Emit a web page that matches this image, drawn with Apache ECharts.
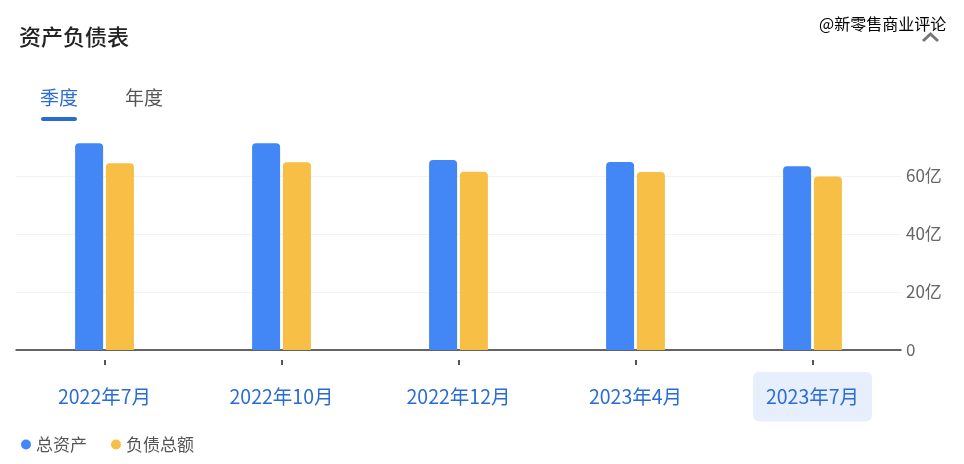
<!DOCTYPE html>
<html><head><meta charset="utf-8">
<script src="https://cdn.jsdelivr.net/npm/echarts@6/dist/echarts.min.js"></script>
<style>html,body{margin:0;padding:0;background:#fff}#c{width:964px;height:464px}</style>
</head><body><div id="c"></div>
<script>
const categories = ['2022年7月','2022年10月','2022年12月','2023年4月','2023年7月'];
const totalAssets = [71.3, 71.3, 65.5, 64.8, 63.4];
const totalLiabilities = [64.4, 64.7, 61.5, 61.4, 59.8];
const seriesNames = ['总资产','负债总额'];
const yTicks = [0, 20, 40, 60];

const FONT = '"Noto Sans CJK SC","Noto Sans",sans-serif';
const chart = echarts.init(document.getElementById('c'), null, {renderer:'canvas'});
chart.setOption({
  animation:false,
  textStyle:{fontFamily:FONT},
  title:{text:'资产负债表', left:14, top:21, textStyle:{fontSize:22, fontWeight:500, color:'#222', fontFamily:FONT}},
  graphic:[
    {type:'text', left:40, top:88, style:{text:'季度', fontSize:19, fill:'#2a6cd6', fontFamily:FONT}},
    {type:'text', left:125, top:88, style:{text:'年度', fontSize:19, fill:'#555', fontFamily:FONT}},
    {type:'rect', shape:{x:41, y:117, width:36, height:4, r:2}, style:{fill:'#2a6cd6'}},
    {type:'text', left:819, top:16, style:{text:'@新零售商业评论', fontSize:16, fill:'#000', fontFamily:FONT}},
    {type:'polyline', shape:{points:[[923,41],[930.5,34],[938,41]]}, style:{stroke:'#777', lineWidth:3, fill:null}}
  ],
  legend:{
    data:seriesNames, left:16, top:431, icon:'circle', itemWidth:10, itemHeight:10, itemGap:24,
    textStyle:{fontSize:17, color:'#555', fontFamily:FONT}
  },
  grid:{left:16, right:63, top:118, bottom:114},
  xAxis:[
    {type:'category', data:categories, axisLine:{show:true, lineStyle:{color:'#333', width:1.5}},
     axisTick:{show:false}, axisLabel:{show:false}},
    {type:'category', data:categories, position:'bottom', offset:10,
     axisLine:{show:false}, axisTick:{show:true, alignWithLabel:true, length:5, lineStyle:{color:'#555', width:2}},
     axisLabel:{margin:12, formatter:(v,i)=> i===categories.length-1 ? '{hl|'+v+'}' : '{n|'+v+'}',
       rich:{
         n:{fontSize:19.5, color:'#2a6cd6', padding:[15,13], fontFamily:FONT},
         hl:{fontSize:19.5, color:'#2a6cd6', padding:[15,13], backgroundColor:'#e7effc', borderRadius:6, fontFamily:FONT}
       }}}
  ],
  yAxis:{type:'value', position:'right', min:0, max:80, interval:20,
    axisLine:{show:false}, axisTick:{show:false},
    splitLine:{lineStyle:{color:['#f3f3f3','#f3f3f3','#f3f3f3','#f3f3f3','rgba(0,0,0,0)']}},
    axisLabel:{margin:5, fontSize:17, color:'#666', fontFamily:FONT,
      formatter:v=> yTicks.indexOf(v)<0 ? '' : (v===0 ? '0' : v+'亿')}},
  series:[
    {name:seriesNames[0], type:'bar', data:totalAssets, barWidth:28, barGap:'10%',
     itemStyle:{color:'#4287f5', borderRadius:[4,4,0,0]}},
    {name:seriesNames[1], type:'bar', data:totalLiabilities, barWidth:28, barGap:'10%',
     itemStyle:{color:'#f7bf45', borderRadius:[4,4,0,0]}}
  ]
});
</script></body></html>
